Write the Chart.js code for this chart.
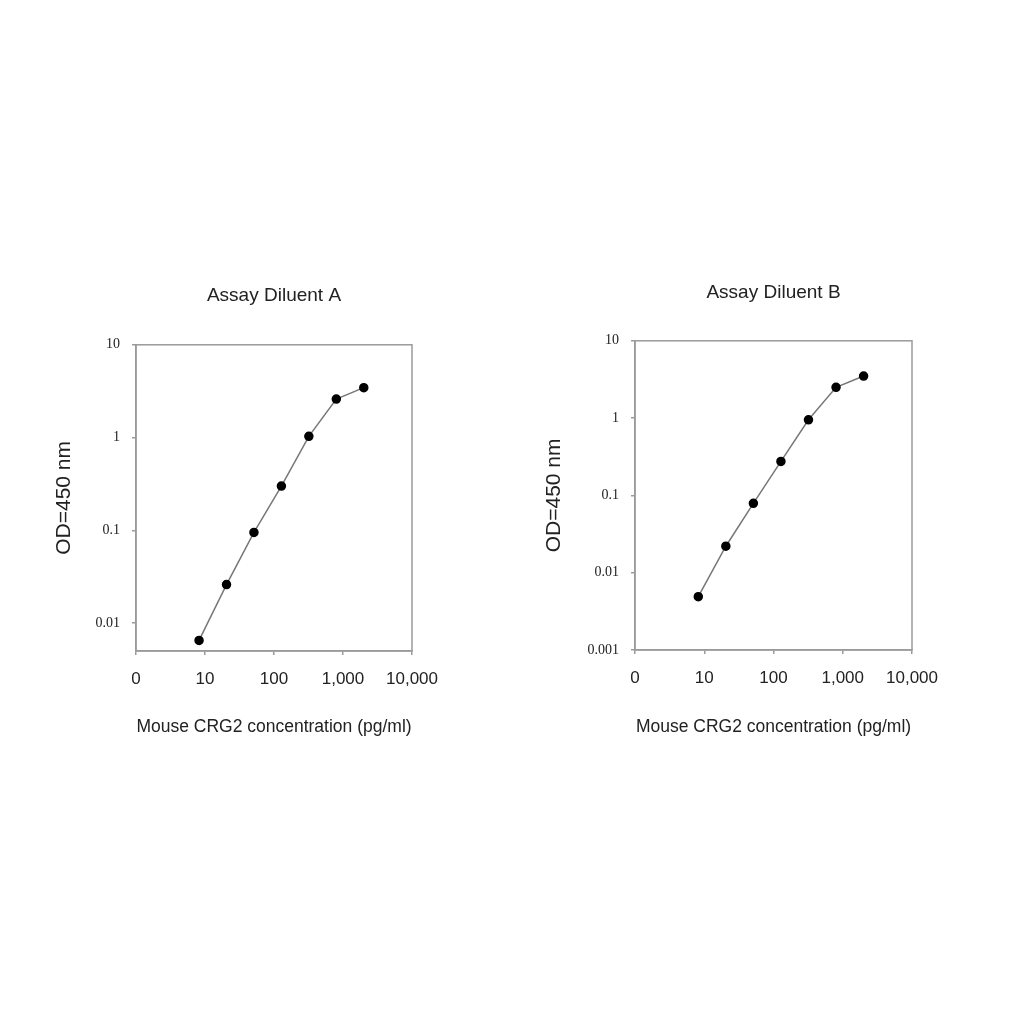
<!DOCTYPE html>
<html>
<head>
<meta charset="utf-8">
<script src="https://cdn.jsdelivr.net/npm/chart.js@4.4.1/dist/chart.umd.min.js"></script>
<style>
  html, body { margin: 0; padding: 0; background: #fff; }
  #wrap { position: relative; width: 1024px; height: 1024px; }
  canvas { position: absolute; top: 0; }
</style>
</head>
<body>
<div id="wrap">
  <canvas id="graficaA" width="512" height="1024" style="left:0px"></canvas>
  <canvas id="graficaB" width="512" height="1024" style="left:512px"></canvas>
</div>
<script>
// concentracion de CRG2 (pg/ml), misma serie de diluciones en ambas graficas
const concentraciones = [8.2, 20.5, 51.2, 128, 320, 800, 2000];
const od_diluente_a = [0.0065, 0.026, 0.095, 0.30, 1.03, 2.6, 3.45];
const od_diluente_b = [0.0049, 0.022, 0.079, 0.275, 0.95, 2.5, 3.5];

const ticks_x = [1, 10, 100, 1000, 10000];
const etiquetas_x = ['0', '10', '100', '1,000', '10,000'];
const ticks_y_a = [0.01, 0.1, 1, 10];
const etiquetas_y_a = ['0.01', '0.1', '1', '10'];
const ticks_y_b = [0.001, 0.01, 0.1, 1, 10];
const etiquetas_y_b = ['0.001', '0.01', '0.1', '1', '10'];

const gris_eje = '#9a9a9a';
const color_texto = '#222';

// caja completa alrededor del area de la grafica
const marco = {
    id: 'marco',
    afterDraw(chart) {
        const {ctx, chartArea} = chart;
        ctx.save();
        ctx.strokeStyle = gris_eje;
        ctx.lineWidth = 1.5;
        ctx.strokeRect(chartArea.left, chartArea.top, chartArea.right - chartArea.left, chartArea.bottom - chartArea.top);
        ctx.restore();
    }
};

const crearGrafica = (id, titulo, valores, ticks_y, etiquetas_y, min_y, caja) => {
    const puntos = concentraciones.map((c, i) => ({x: c, y: valores[i]}));
    return new Chart(document.getElementById(id).getContext('2d'), {
        type: 'scatter',
        data: {
            datasets: [{
                data: puntos,
                showLine: true,
                borderColor: '#777',
                borderWidth: 1.5,
                pointBackgroundColor: '#000',
                pointBorderColor: '#000',
                pointRadius: 4,
                tension: 0
            }]
        },
        options: {
            responsive: false,
            animation: false,
            layout: {
                padding: {left: caja.pl, right: caja.pr, top: caja.pt, bottom: caja.pb}
            },
            plugins: {
                legend: {display: false},
                tooltip: {enabled: false},
                title: {
                    display: true,
                    text: titulo,
                    fullSize: false,
                    color: color_texto,
                    font: {family: 'Liberation Sans', size: 19, weight: 'normal', lineHeight: 1.2},
                    padding: {top: 0, bottom: caja.tb}
                }
            },
            scales: {
                x: {
                    type: 'logarithmic',
                    min: 1,
                    max: 10000,
                    afterBuildTicks: (scale) => { scale.ticks = ticks_x.map(v => ({value: v})); },
                    afterFit: (scale) => { scale.height = caja.xh; },
                    ticks: {
                        color: color_texto,
                        padding: 14,
                        maxRotation: 0,
                        autoSkip: false,
                        font: {family: 'Liberation Sans', size: 17},
                        callback: (v, i) => etiquetas_x[i]
                    },
                    grid: {drawOnChartArea: false, tickLength: 4, color: gris_eje, lineWidth: 1.5},
                    border: {color: gris_eje, width: 1.5},
                    title: {
                        display: true,
                        text: 'Mouse CRG2 concentration (pg/ml)',
                        color: color_texto,
                        font: {family: 'Liberation Sans', size: 17.5, lineHeight: 1.2},
                        padding: 0
                    }
                },
                y: {
                    type: 'logarithmic',
                    min: min_y,
                    max: 10,
                    afterBuildTicks: (scale) => { scale.ticks = ticks_y.map(v => ({value: v})); },
                    afterFit: (scale) => { scale.width = caja.yw; },
                    ticks: {
                        color: color_texto,
                        padding: 12,
                        autoSkip: false,
                        font: {family: 'Liberation Serif', size: 14},
                        callback: (v, i) => etiquetas_y[i]
                    },
                    grid: {drawOnChartArea: false, tickLength: 4, color: gris_eje, lineWidth: 1.5},
                    border: {color: gris_eje, width: 1.5},
                    title: {
                        display: true,
                        text: 'OD=450 nm',
                        color: color_texto,
                        font: {family: 'Liberation Sans', size: 21, lineHeight: 1.2},
                        padding: 0
                    }
                }
            }
        },
        plugins: [marco]
    });
};

document.addEventListener('DOMContentLoaded', () => {
    crearGrafica('graficaA', 'Assay Diluent A', od_diluente_a, ticks_y_a, etiquetas_y_a, 0.005,
        {pl: 52, pr: 100, pt: 284, pb: 286, tb: 38, yw: 84, xh: 87});
    crearGrafica('graficaB', 'Assay Diluent B', od_diluente_b, ticks_y_b, etiquetas_y_b, 0.001,
        {pl: 30, pr: 112, pt: 281, pb: 286, tb: 37, yw: 93, xh: 88});
});
</script>
</body>
</html>
